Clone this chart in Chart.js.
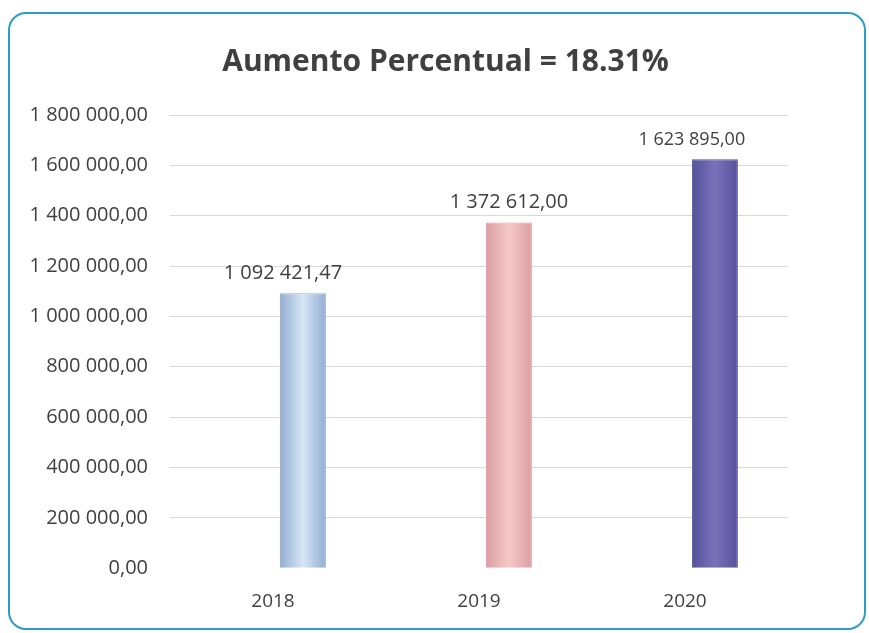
<!DOCTYPE html>
<html>
<head>
<meta charset="utf-8">
<script src="https://cdn.jsdelivr.net/npm/chart.js@4.4.0/dist/chart.umd.min.js"></script>
<style>
  html, body { margin: 0; padding: 0; background: #ffffff; }
  #frame {
    position: absolute; left: 8px; top: 12px;
    width: 854px; height: 614px;
    border: 2px solid #2e9cc4; border-radius: 18px;
    overflow: hidden; background: #fff;
  }
  #chart { display: block; }
</style>
</head>
<body>
<div id="frame"><canvas id="chart" width="854" height="614"></canvas></div>
<script>
const years = ['2018', '2019', '2020'];
const totals = [1092421.47, 1372612.00, 1623895.00];
// empty first series: Excel left a blank slot in each cluster
const blankSeries = [null, null, null];
const titleText = 'Aumento Percentual = 18.31%';
const labelSizes = [20, 20, 18];
// the labels were dragged sideways in the original
const labelNudge = [-20, 0, -23];

// edge / centre colours of each bar
const barEdges = ['#93acd2', '#dc9ea2', '#56519a'];
const barCentres = ['#d8e7f7', '#f6c8c8', '#7a72b9'];

function fmt(v) {
    let parts = v.toFixed(2).split('.');
    let intPart = parts[0].replace(/\B(?=(\d{3})+(?!\d))/g, ' ');
    return intPart + ',' + parts[1];
}

// horizontal gradient on each bar, set once the bars have their geometry
const barGradients = {
    id: 'barGradients',
    beforeDatasetsDraw(chart) {
        const c = chart.ctx;
        chart.getDatasetMeta(1).data.forEach((bar, i) => {
            const half = bar.width / 2;
            const g = c.createLinearGradient(bar.x - half, 0, bar.x + half, 0);
            g.addColorStop(0, barEdges[i]);
            g.addColorStop(0.5, barCentres[i]);
            g.addColorStop(1, barEdges[i]);
            bar.options.backgroundColor = g;
        });
    }
};

const valueLabels = {
    id: 'valueLabels',
    afterDatasetsDraw(chart) {
        const c = chart.ctx;
        const meta = chart.getDatasetMeta(1);
        c.save();
        c.fillStyle = '#404040';
        c.textAlign = 'center';
        c.textBaseline = 'bottom';
        meta.data.forEach((bar, i) => {
            c.font = labelSizes[i] + 'px "Open Sans", sans-serif';
            c.fillText(fmt(totals[i]), bar.x + labelNudge[i], bar.y - 10);
        });
        c.restore();
    }
};

const chartTitle = {
    id: 'chartTitle',
    afterDraw(chart) {
        const c = chart.ctx;
        c.save();
        c.fillStyle = '#404040';
        c.font = 'bold 30px "Open Sans", sans-serif';
        c.textAlign = 'center';
        c.textBaseline = 'middle';
        c.fillText(titleText, chart.width * 0.51, 48);
        c.restore();
    }
};

const ctx = document.getElementById('chart').getContext('2d');
new Chart(ctx, {
    type: 'bar',
    data: {
        labels: years,
        datasets: [{
            data: blankSeries,
            backgroundColor: 'rgba(0,0,0,0)',
            categoryPercentage: 0.58,
            barPercentage: 0.77
        }, {
            data: totals,
            backgroundColor: barCentres,
            borderColor: barEdges,
            borderWidth: 1,
            categoryPercentage: 0.58,
            barPercentage: 0.77
        }]
    },
    options: {
        responsive: false,
        animation: false,
        layout: { padding: { left: 20, right: 76, top: 101, bottom: 1 } },
        plugins: {
            legend: { display: false },
            tooltip: { enabled: false },
            title: { display: false }
        },
        scales: {
            x: {
                grid: { display: false },
                border: { display: false },
                ticks: {
                    color: '#404040',
                    font: { family: '"Open Sans", sans-serif', size: 19 },
                    padding: 14
                }
            },
            y: {
                min: 0,
                max: 1800000,
                afterFit: scale => { scale.width = 140; },
                ticks: {
                    stepSize: 200000,
                    color: '#404040',
                    font: { family: '"Open Sans", sans-serif', size: 20 },
                    padding: 22,
                    callback: v => fmt(v)
                },
                grid: {
                    color: c => c.tick && c.tick.value === 0 ? 'rgba(0,0,0,0)' : '#d9d9d9',
                    drawTicks: false
                },
                border: { display: false }
            }
        }
    },
    plugins: [barGradients, valueLabels, chartTitle]
});
</script>
</body>
</html>
